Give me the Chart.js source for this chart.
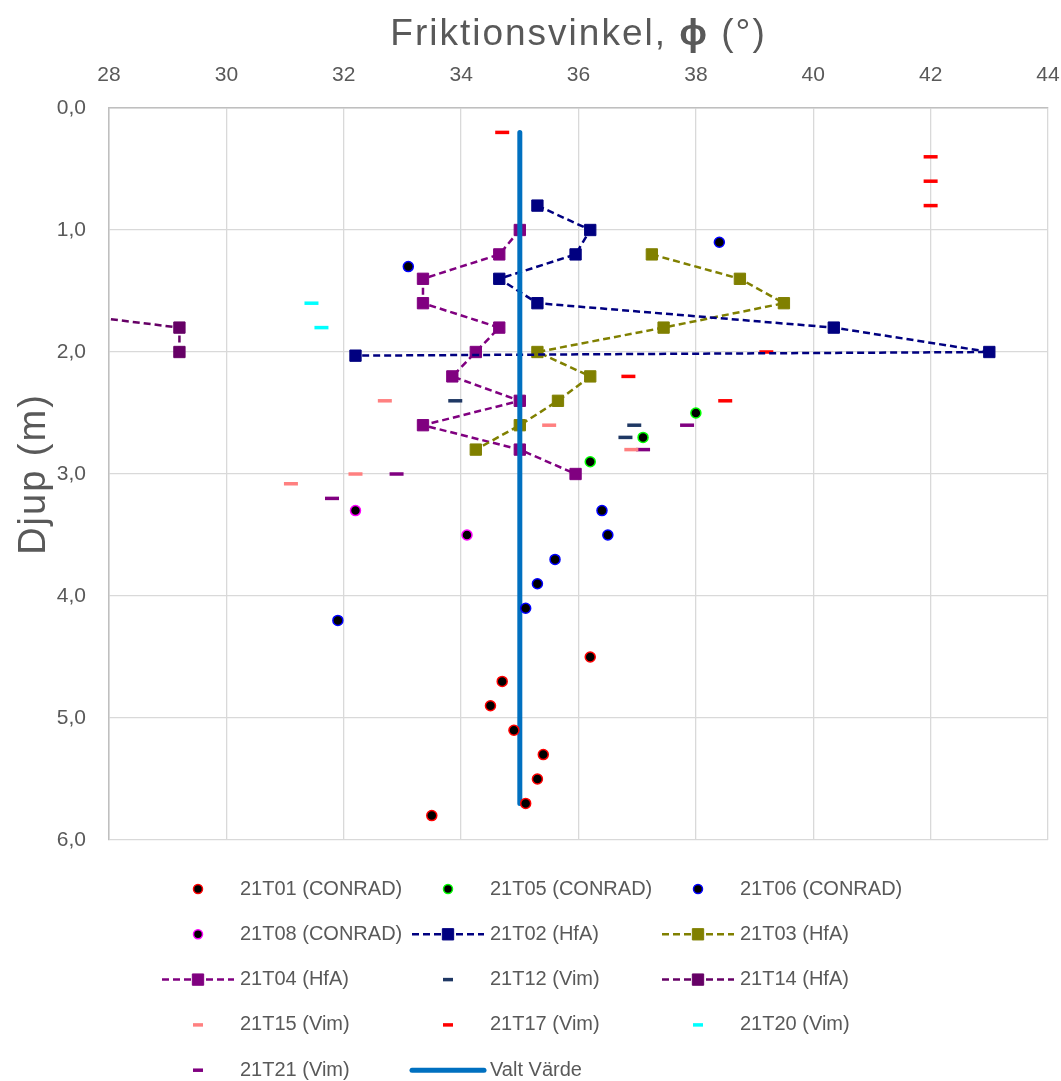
<!DOCTYPE html>
<html>
<head>
<meta charset="utf-8">
<script src="https://cdn.jsdelivr.net/npm/chart.js@4.4.1/dist/chart.umd.min.js"></script>
<style>
  html, body { margin: 0; background: #fff; }
  #wrap { width: 1061px; height: 1081px; }
</style>
</head>
<body>
<div id="wrap"><canvas id="chart"></canvas></div>
<script>
// friction angle (x) vs depth (y)
var xTicks = [28, 30, 32, 34, 36, 38, 40, 42, 44];
var yTickLabels = ['0,0', '1,0', '2,0', '3,0', '4,0', '5,0', '6,0'];

var t01X = [36.2, 34.7, 34.5, 34.9, 35.4, 35.3, 35.1, 33.5];
var t01Y = [4.5, 4.7, 4.9, 5.1, 5.3, 5.5, 5.7, 5.8];
var t05X = [38.0, 37.1, 36.2];
var t05Y = [2.5, 2.7, 2.9];
var t06X = [38.4, 33.1, 36.4, 36.5, 35.6, 35.3, 35.1, 31.9];
var t06Y = [1.1, 1.3, 3.3, 3.5, 3.7, 3.9, 4.1, 4.2];
var t08X = [32.2, 34.1];
var t08Y = [3.3, 3.5];
var t02X = [35.3, 36.2, 35.95, 34.65, 35.3, 40.35, 43.0, 32.2];
var t02Y = [0.8, 1.0, 1.2, 1.4, 1.6, 1.8, 2.0, 2.03];
var t03X = [37.25, 38.75, 39.5, 37.45, 35.3, 36.2, 35.65, 35.0, 34.25];
var t03Y = [1.2, 1.4, 1.6, 1.8, 2.0, 2.2, 2.4, 2.6, 2.8];
var t04X = [35.0, 34.65, 33.35, 33.35, 34.65, 34.25, 33.85, 35.0, 33.35, 35.0, 35.95];
var t04Y = [1.0, 1.2, 1.4, 1.6, 1.8, 2.0, 2.2, 2.4, 2.6, 2.8, 3.0];
var t12X = [33.9, 36.95, 36.8];
var t12Y = [2.4, 2.6, 2.7];
var t14X = [25.8, 29.2, 29.2];
var t14Y = [1.6, 1.8, 2.0];
var t15X = [32.7, 35.5, 36.9, 32.2, 31.1];
var t15Y = [2.4, 2.6, 2.8, 3.0, 3.08];
var t17X = [34.7, 42, 42, 42, 39.2, 36.85, 38.5];
var t17Y = [0.2, 0.4, 0.6, 0.8, 2.0, 2.2, 2.4];
var t20X = [31.45, 31.62];
var t20Y = [1.6, 1.8];
var t21X = [37.85, 37.1, 32.9, 31.8];
var t21Y = [2.6, 2.8, 3.0, 3.2];
var valtX = [35, 35];
var valtY = [0.2, 5.7];

var textColor = '#595959';
var fontFamily = '"Liberation Sans", Arial, sans-serif';

function pts(xs, ys) {
  return xs.map(function (x, i) { return { x: x, y: ys[i] }; });
}

function conrad(label, xs, ys, color) {
  return {
    label: label, data: pts(xs, ys), showLine: false, order: 1,
    pointStyle: 'circle', pointRadius: 5, pointBorderWidth: 1.5,
    pointBackgroundColor: '#000', pointBorderColor: color, borderColor: color
  };
}

function hfa(label, xs, ys, color) {
  return {
    label: label, data: pts(xs, ys), showLine: true, order: 3,
    borderColor: color, borderWidth: 2.5, borderDash: [7, 4],
    pointStyle: 'rect', pointRadius: 8, pointBorderWidth: 1,
    pointBackgroundColor: color, pointBorderColor: color
  };
}

function vim(label, xs, ys, color) {
  return {
    label: label, data: pts(xs, ys), showLine: false, order: 3,
    borderColor: color, pointStyle: 'line', pointRadius: 7,
    pointBorderWidth: 3.5, pointBorderColor: color, pointBackgroundColor: color
  };
}

var datasets = [
  conrad('21T01 (CONRAD)', t01X, t01Y, '#ff0000'),
  conrad('21T05 (CONRAD)', t05X, t05Y, '#00ff00'),
  conrad('21T06 (CONRAD)', t06X, t06Y, '#0000ff'),
  conrad('21T08 (CONRAD)', t08X, t08Y, '#ff00ff'),
  hfa('21T02 (HfA)', t02X, t02Y, '#000080'),
  hfa('21T03 (HfA)', t03X, t03Y, '#808000'),
  hfa('21T04 (HfA)', t04X, t04Y, '#800080'),
  vim('21T12 (Vim)', t12X, t12Y, '#1f3864'),
  hfa('21T14 (HfA)', t14X, t14Y, '#660066'),
  vim('21T15 (Vim)', t15X, t15Y, '#ff8080'),
  vim('21T17 (Vim)', t17X, t17Y, '#ff0000'),
  vim('21T20 (Vim)', t20X, t20Y, '#00ffff'),
  vim('21T21 (Vim)', t21X, t21Y, '#800080'),
  {
    label: 'Valt Värde', data: pts(valtX, valtY), showLine: true, order: 2,
    borderColor: '#0070c0', borderWidth: 5, borderCapStyle: 'round',
    pointRadius: 0
  }
];

// axis titles and a grid legend drawn by hand
var decor = {
  id: 'decor',
  afterDraw: function (chart) {
    var ctx = chart.ctx, area = chart.chartArea;
    ctx.save();
    ctx.fillStyle = textColor;
    ctx.textBaseline = 'alphabetic';
    ctx.textAlign = 'left';
    ctx.letterSpacing = '2px';

    var parts = [['Friktionsvinkel, ', 'normal'], ['ϕ', 'bold'], [' (°)', 'normal']];
    var total = 0;
    parts.forEach(function (p) {
      ctx.font = p[1] + ' 37px ' + fontFamily;
      total += ctx.measureText(p[0]).width;
    });
    var x = (area.left + area.right) / 2 - total / 2;
    parts.forEach(function (p) {
      ctx.font = p[1] + ' 37px ' + fontFamily;
      ctx.fillText(p[0], x, 45);
      x += ctx.measureText(p[0]).width;
    });

    ctx.save();
    ctx.translate(45, (area.top + area.bottom) / 2);
    ctx.rotate(-Math.PI / 2);
    ctx.textAlign = 'center';
    ctx.font = '38px ' + fontFamily;
    ctx.fillText('Djup (m)', 0, 0);
    ctx.restore();

    ctx.letterSpacing = '0px';
    ctx.textBaseline = 'middle';
    ctx.font = '20px ' + fontFamily;
    chart.data.datasets.forEach(function (ds, i) {
      var cx = 198 + (i % 3) * 250;
      var cy = 889 + Math.floor(i / 3) * 45.3;
      ctx.save();
      if (ds.showLine) {
        ctx.strokeStyle = ds.borderColor;
        ctx.lineWidth = ds.borderWidth;
        ctx.lineCap = ds.borderCapStyle || 'butt';
        ctx.setLineDash(ds.borderDash || []);
        ctx.beginPath();
        ctx.moveTo(cx - 36, cy);
        ctx.lineTo(cx + 36, cy);
        ctx.stroke();
      }
      if (ds.pointRadius > 0) {
        ctx.setLineDash([]);
        ctx.fillStyle = ds.pointBackgroundColor;
        ctx.strokeStyle = ds.pointBorderColor;
        ctx.lineWidth = ds.pointBorderWidth;
        var r = ds.pointStyle === 'circle' ? 4.5 : (ds.pointStyle === 'line' ? 5 : ds.pointRadius);
        Chart.helpers.drawPoint(ctx, {
          pointStyle: ds.pointStyle, radius: r, rotation: 0, borderWidth: ds.pointBorderWidth
        }, cx, cy);
      }
      ctx.restore();
      ctx.fillStyle = textColor;
      ctx.fillText(ds.label, cx + 42, cy);
    });
    ctx.restore();
  }
};

new Chart(document.getElementById('chart'), {
  type: 'scatter',
  data: { datasets: datasets },
  options: {
    responsive: true,
    maintainAspectRatio: false,
    animation: false,
    events: [],
    layout: { padding: { left: 0, right: 13, top: 0, bottom: 241 } },
    plugins: { legend: { display: false }, tooltip: { enabled: false } },
    scales: {
      x: {
        type: 'linear', position: 'top', min: 28, max: 44,
        afterBuildTicks: function (s) { s.ticks = xTicks.map(function (v) { return { value: v }; }); },
        afterFit: function (s) { s.height = 108; s.paddingLeft = 0; s.paddingRight = 0; },
        ticks: { color: textColor, font: { family: fontFamily, size: 21 }, padding: 20, maxRotation: 0 },
        grid: { color: '#d9d9d9', lineWidth: 1.3, drawTicks: false },
        border: { color: '#bfbfbf', width: 1.5 }
      },
      y: {
        type: 'linear', reverse: true, min: 0, max: 6,
        afterFit: function (s) { s.width = 109; s.paddingTop = 0; s.paddingBottom = 0; },
        ticks: {
          stepSize: 1, color: textColor, font: { family: fontFamily, size: 21 }, padding: 23,
          callback: function (v) { return yTickLabels[Math.round(v)]; }
        },
        grid: { color: '#d9d9d9', lineWidth: 1.3, drawTicks: false },
        border: { color: '#bfbfbf', width: 1.5 }
      }
    }
  },
  plugins: [decor]
});
</script>
</body>
</html>
